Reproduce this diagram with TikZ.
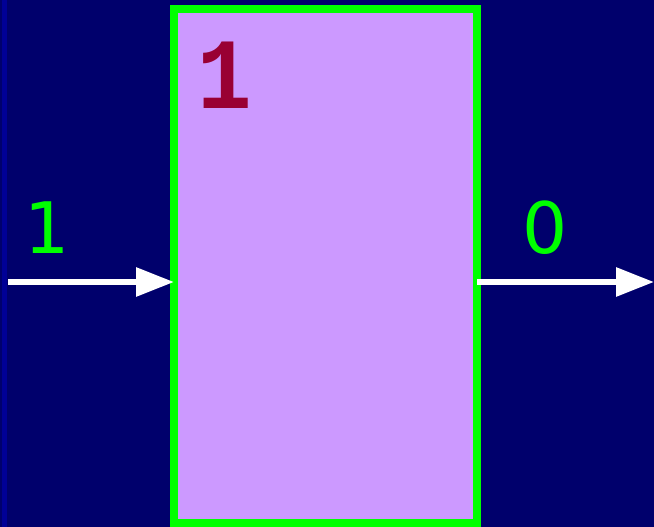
\documentclass[tikz,border=0pt]{standalone}
\usepackage{fontspec}
\newfontfamily\labelfont{DejaVu Sans}
\newfontfamily\monofont{Liberation Mono}
\usetikzlibrary{arrows.meta}
\definecolor{navybg}{RGB}{0,0,108}
\definecolor{stripblue}{RGB}{0,0,150}
\definecolor{boxfill}{RGB}{204,153,255}
\definecolor{boxline}{RGB}{0,255,0}
\definecolor{numred}{RGB}{153,0,51}
\tikzset{
  gate/.style={draw=boxline, line width=8pt, fill=boxfill},
  signal/.style={white, line width=6pt, -{Triangle[length=38pt,width=28pt]}},
  siglabel/.style={text=boxline, font=\labelfont\fontsize{71}{71}\selectfont, inner sep=0pt},
  gatenum/.style={text=numred, font=\monofont\bfseries\fontsize{101}{101}\selectfont, inner sep=0pt, xscale=0.9}
}
\begin{document}
\begin{tikzpicture}[x=1pt,y=-1pt]
\useasboundingbox (0,0) rectangle (654,527);
\fill[navybg] (0,0) rectangle (654,527);
\fill[stripblue] (2,0) rectangle (7,527);
\draw[gate] (174,9.5) rectangle (476.5,523) ;
\node (box) at (325.25,266) [minimum width=302.5pt, minimum height=513.5pt, inner sep=0pt] {};
\node[gatenum, anchor=base west] (num) at (197,109) {1};
\coordinate (inL) at (8,282);
\coordinate (inR) at (174,282);
\coordinate (outL) at (477,282);
\coordinate (outR) at (654,282);
\draw[signal] (inL) -- (inR);
\draw[signal] (outL) -- (outR);
\node[siglabel] (lin) at (47,228) {1};
\node[siglabel] (lout) at (545,228) {0};
\end{tikzpicture}
\end{document}
